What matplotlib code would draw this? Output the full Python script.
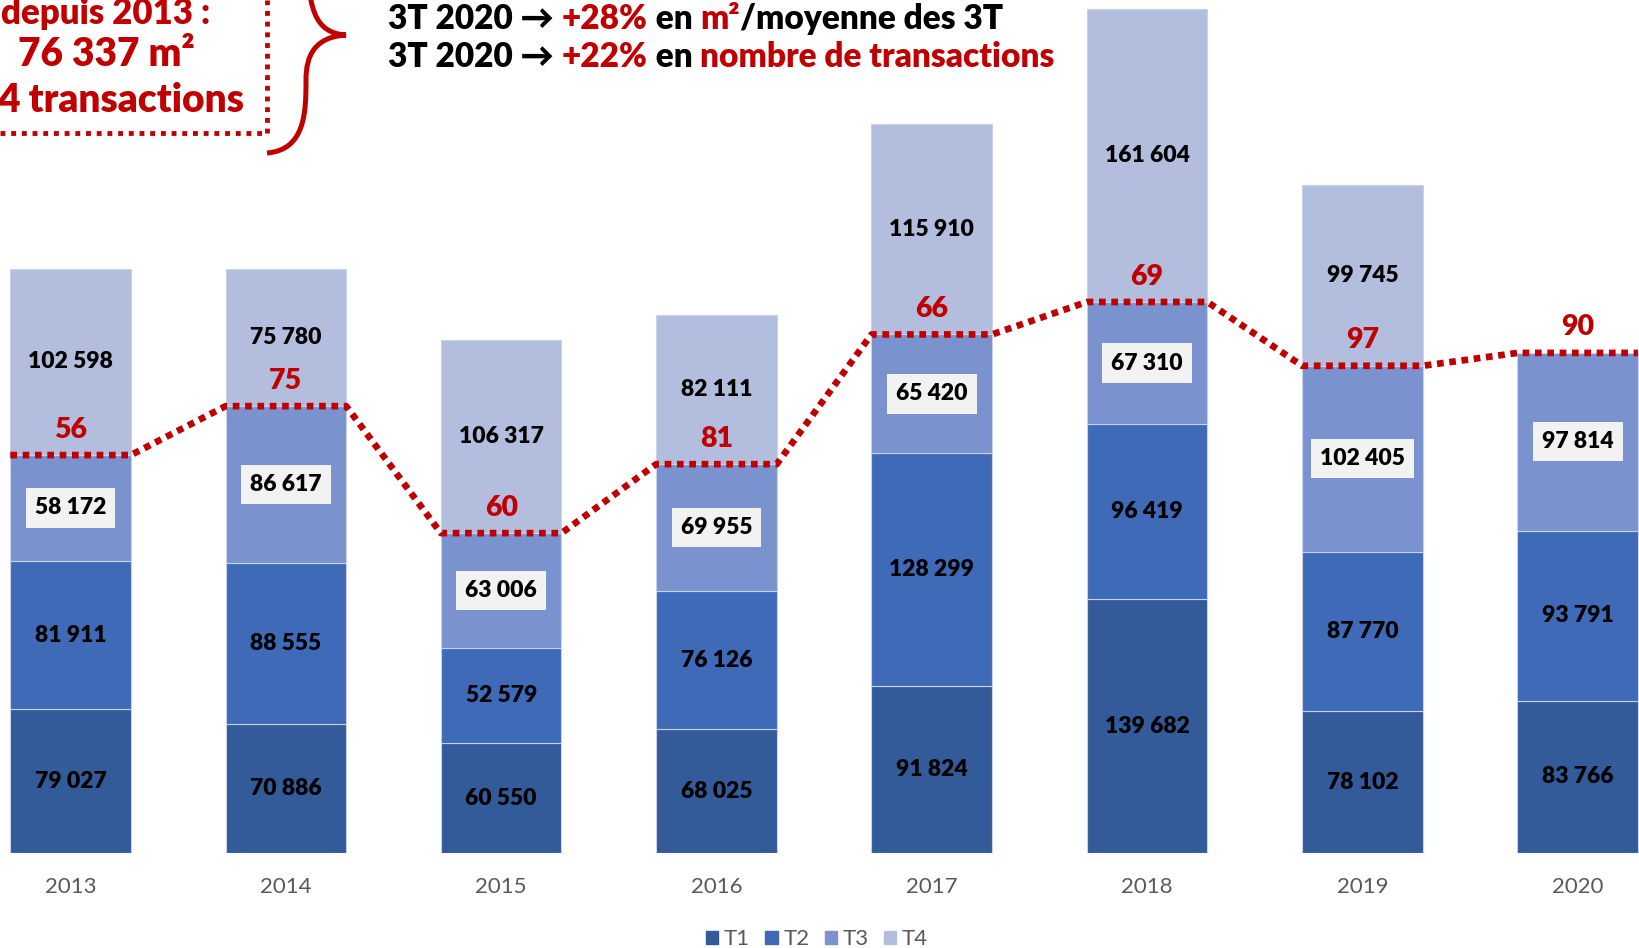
import numpy as np
import matplotlib
matplotlib.use("Agg")
import matplotlib.pyplot as plt
from matplotlib.patches import Patch, PathPatch
from matplotlib.path import Path
from matplotlib.lines import Line2D

plt.rcParams['font.family'] = ['Lato', 'DejaVu Sans']

years = ['2013', '2014', '2015', '2016', '2017', '2018', '2019', '2020']
t1 = [79027, 70886, 60550, 68025, 91824, 139682, 78102, 83766]
t2 = [81911, 88555, 52579, 76126, 128299, 96419, 87770, 93791]
t3 = [58172, 86617, 63006, 69955, 65420, 67310, 102405, 97814]
t4 = [102598, 75780, 106317, 82111, 115910, 161604, 99745, 0]
nb_transac = [56, 75, 60, 81, 66, 69, 97, 90]
series_names = ['T1', 'T2', 'T3', 'T4']

colors = ['#335a99', '#3e6ab7', '#7a93ce', '#b3bedf']
RED = '#c00000'
GREY = '#595959'

def fmt(v):
    return '{:,}'.format(v).replace(',', ' ')

fig = plt.figure(figsize=(16.39, 9.48), dpi=100)
ax = fig.add_axes([0, 95/948, 1, 853/948])

x = np.arange(len(years))
w = 0.56
data = [np.array(t1), np.array(t2), np.array(t3), np.array(t4)]
bottom = np.zeros(len(years))
for k, vals in enumerate(data):
    ax.bar(x, vals, w, bottom=bottom, color=colors[k], edgecolor='#c8d2ec', linewidth=0.8)
    for i, v in enumerate(vals):
        if v <= 0:
            continue
        yc = bottom[i] + v / 2
        if k == 2:
            ax.text(x[i], yc, fmt(v), ha='center', va='center', fontsize=16.5, fontweight='heavy',
                    color='black', bbox=dict(boxstyle='square,pad=0.4', fc='#f2f2f2', ec='none'))
        else:
            ax.text(x[i], yc, fmt(v), ha='center', va='center', fontsize=16.5,
                    fontweight='heavy', color='black')
    bottom = bottom + vals

# dotted red line along top of T3
top3 = np.array(t1) + np.array(t2) + np.array(t3)
lx, ly = [], []
for i in range(len(years)):
    lx += [x[i] - w/2, x[i] + w/2]
    ly += [top3[i], top3[i]]
ax.plot(lx, ly, color=RED, linewidth=4.8, linestyle=(0, (1, 0.85)),
        dash_capstyle='butt', solid_joinstyle='miter')
for i, n in enumerate(nb_transac):
    ax.text(x[i], top3[i] + 14000, str(n), ha='center', va='center', fontsize=20.5,
            fontweight='heavy', color=RED)

ax.set_xlim(-0.328, 7.285)
ax.set_ylim(0, 469700)
ax.set_xticks(x)
ax.set_xticklabels(years, color=GREY, fontsize=16)
ax.tick_params(axis='x', length=0, pad=17)
ax.set_yticks([])
for s in ax.spines.values():
    s.set_visible(False)

handles = [Patch(color=c) for c in colors]
fig.legend(handles, series_names, loc='center', bbox_to_anchor=(0.4985, 0.009), ncol=4,
           frameon=False, fontsize=16, labelcolor=GREY, handlelength=0.55, handleheight=0.55,
           handletextpad=0.25, columnspacing=0.7)

# top-left annotation box (partly outside the picture)
fig.text(106/1639, 1 - 13/948, 'depuis 2013 :', ha='center', va='center', fontsize=25,
         fontweight='heavy', color=RED)
fig.text(106/1639, 1 - 55/948, '76 337 m²', ha='center', va='center', fontsize=28,
         fontweight='heavy', color=RED)
fig.text(-3/1639, 1 - 101/948, '4 transactions', ha='left', va='center', fontsize=28,
         fontweight='heavy', color=RED)
fig.add_artist(Line2D([0, 267/1639], [1 - 133/948, 1 - 133/948], color=RED, linewidth=3.5,
                      linestyle=(0, (1, 1.2)), dash_capstyle='butt', transform=fig.transFigure))
fig.add_artist(Line2D([267/1639, 267/1639], [1 - 133/948, 1.0], color=RED, linewidth=3.5,
                      linestyle=(0, (1, 1.2)), dash_capstyle='butt', transform=fig.transFigure))

# curly brace
H = 948
pts = [(308, -60), (306, 10), (315, 33), (346, 35),
       (315, 37), (306, 55), (306, 80),
       (306, 110), (306, 150), (267, 153)]
verts = [(px/1639, 1 - py/H) for px, py in pts]
codes = [Path.MOVETO, Path.CURVE4, Path.CURVE4, Path.CURVE4,
         Path.CURVE4, Path.CURVE4, Path.CURVE4,
         Path.CURVE4, Path.CURVE4, Path.CURVE4]
fig.add_artist(PathPatch(Path(verts, codes), fc='none', ec=RED, lw=3.6,
                         transform=fig.transFigure, capstyle='butt'))

# headline rich text
renderer = fig.canvas.get_renderer()

def text_width(s, size):
    t = fig.text(0, 0, s, fontsize=size, fontweight='heavy')
    wpx = t.get_window_extent(renderer).width
    t.remove()
    return wpx

def rich(xpx, ypx, parts, size):
    full = ''
    for s, c in parts:
        off = text_width(full + 'I', size) - text_width('I', size) if full else 0
        fig.text((xpx + off)/1639, 1 - ypx/H, s, fontsize=size, fontweight='heavy', color=c,
                 ha='left', va='center')
        full += s

rich(388, 19, [('3T 2020 → ', 'black'), ('+28%', RED), (' en ', 'black'), ('m²', RED),
               ('/moyenne des 3T', 'black')], 24)
rich(388, 57, [('3T 2020 → ', 'black'), ('+22%', RED), (' en ', 'black'),
               ('nombre de transactions', RED)], 24)

fig.savefig('out.png', dpi=100)
